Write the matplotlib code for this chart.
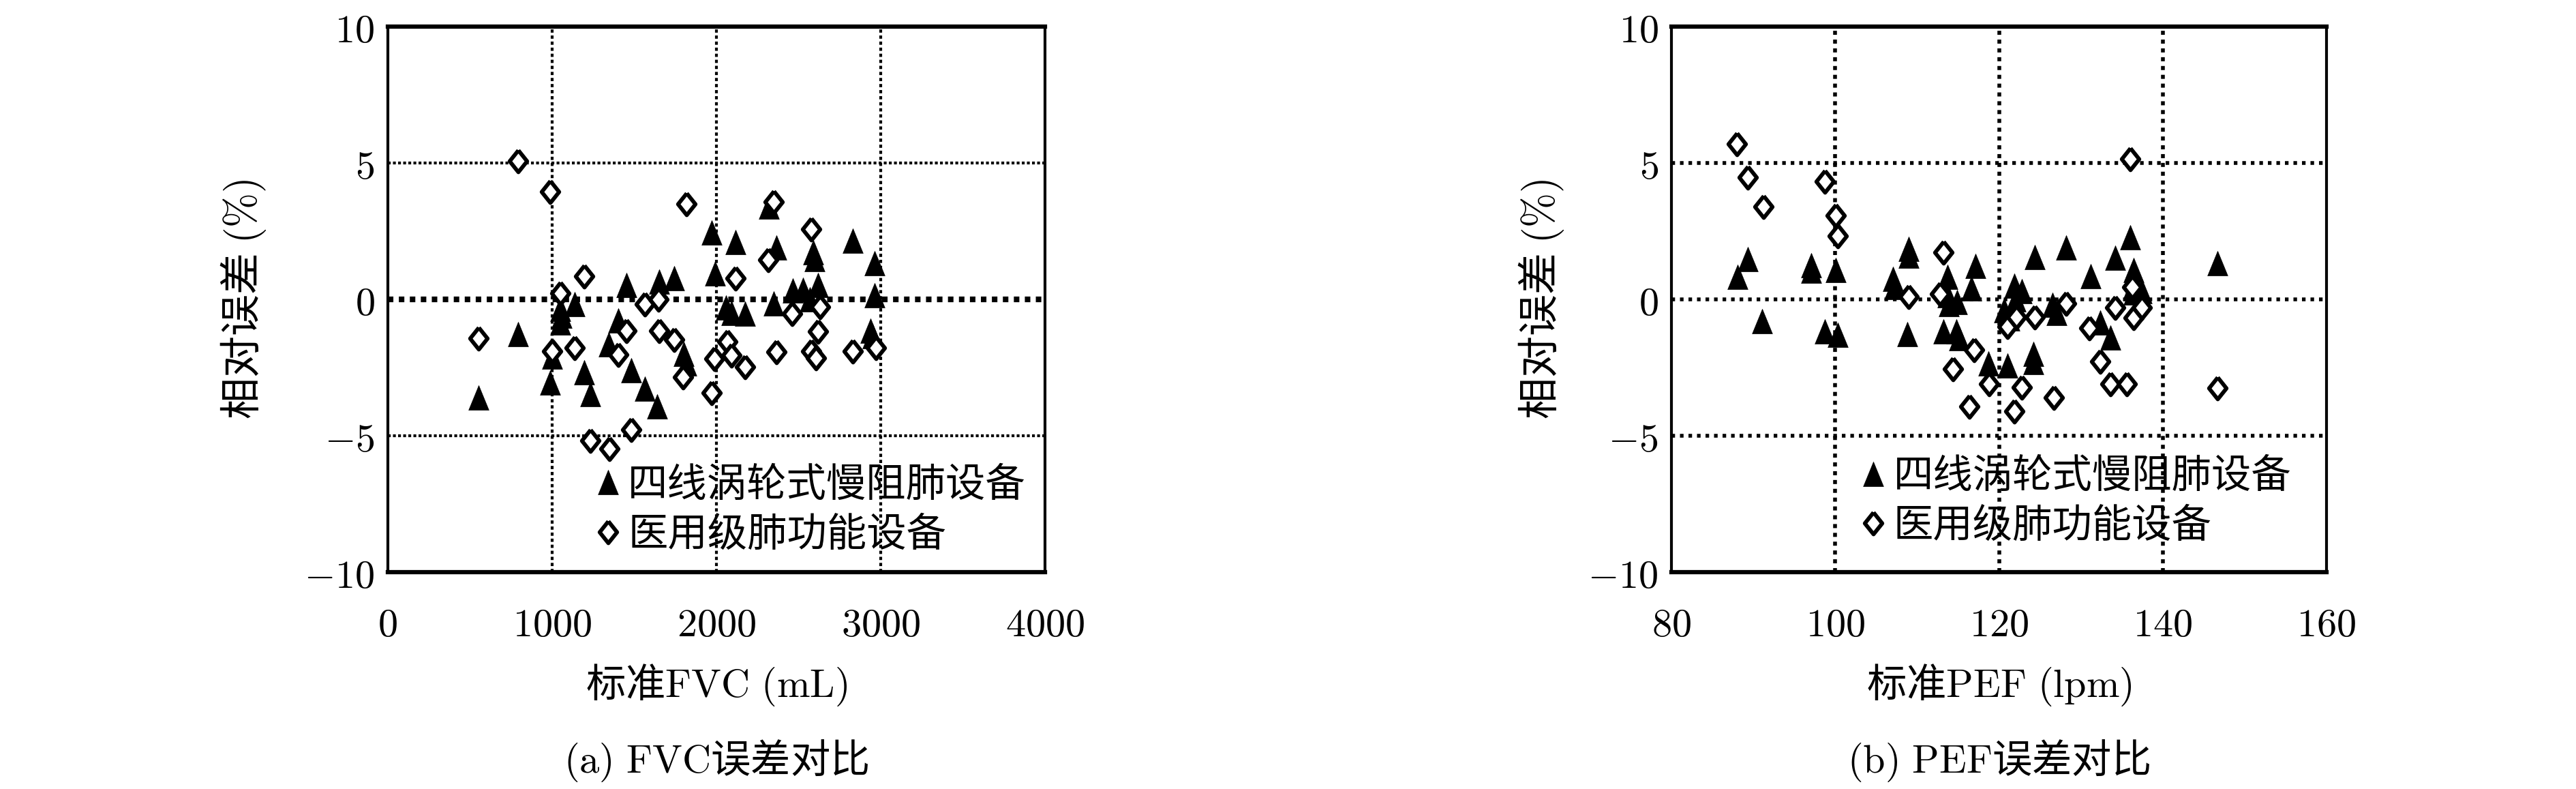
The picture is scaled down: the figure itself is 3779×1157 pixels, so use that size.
import matplotlib
matplotlib.use("Agg")
import matplotlib.pyplot as plt

plt.rcParams['font.family'] = ['Noto Sans CJK SC', 'DejaVu Serif']
plt.rcParams['mathtext.fontset'] = 'cm'
plt.rcParams['lines.scale_dashes'] = False

# ---------- data ----------
fvc_x_tri = [553, 793, 1000, 989, 1050, 1058, 1050, 1138, 1194, 1231, 1346, 1405,
             1454, 1481, 1564, 1640, 1654, 1744, 1800, 1820, 1972, 1993, 2060,
             2090, 2118, 2173, 2320, 2350, 2367, 2467, 2527, 2571, 2592, 2599,
             2620, 2831, 2938, 2950, 2965, 2965]
fvc_y_tri = [-3.6, -1.27, -2.1, -3.06, -0.35, -0.6, -0.85, -0.18, -2.68, -3.48,
             -1.64, -0.77, 0.52, -2.6, -3.27, -3.93, 0.65, 0.78, -2.0, -2.35,
             2.44, 0.94, -0.3, -0.5, 2.1, -0.52, 3.4, -0.14, 1.9, 0.32, 0.36,
             0.0, 1.73, 1.48, 0.52, 2.15, -1.14, -1.35, 1.32, 0.15]
fvc_x_dia = [553, 793, 989, 1000, 1051, 1138, 1194, 1231, 1349, 1405, 1454, 1481,
             1564, 1647, 1654, 1744, 1799, 1820, 1972, 1990, 2069, 2090, 2118,
             2176, 2315, 2350, 2367, 2461, 2578, 2578, 2606, 2620, 2633, 2831, 2970]
fvc_y_dia = [-1.42, 5.08, 3.94, -1.9, 0.23, -1.78, 0.86, -5.18, -5.48, -2.02,
             -1.14, -4.77, -0.18, 0.0, -1.14, -1.48, -2.85, 3.5, -3.43, -2.18,
             -1.56, -2.06, 0.78, -2.48, 1.44, 3.57, -1.92, -0.52, 2.57, -1.9,
             -2.15, -1.17, -0.27, -1.89, -1.77]

pef_x_tri = [88.05, 89.3, 91.1, 97.1, 97.1, 98.75, 100.06, 100.3, 107.06, 107.2,
             108.8, 108.94, 108.94, 113.7, 113.7, 113.9, 114.9, 113.25, 114.8,
             115.1, 116.6, 117.1, 118.7, 120.6, 121.0, 121.3, 121.9, 122.0, 122.8,
             124.2, 124.2, 124.4, 126.5, 127.0, 128.2, 131.2, 132.4, 133.6, 134.2,
             136.0, 136.4, 136.4, 136.4, 137.4, 146.7]
pef_y_tri = [0.82, 1.48, -0.8, 1.25, 1.05, -1.18, 1.07, -1.3, 0.75, 0.45, -1.27,
             1.85, 1.6, 0.82, 0.15, -0.18, -0.1, -1.18, -1.18, -1.43, 0.4, 1.23,
             -2.35, -0.4, -2.43, -0.7, 0.5, 0.0, 0.3, -2.0, -2.3, 1.56, -0.2,
             -0.5, 1.9, 0.86, -0.85, -1.4, 1.52, 2.27, 1.07, 0.5, 0.25, 0.3, 1.32]
pef_x_dia = [88.0, 89.3, 91.2, 98.75, 100.06, 100.3, 108.94, 112.8, 113.2, 114.4,
             116.4, 117.0, 118.8, 121.0, 121.9, 122.1, 122.8, 124.4, 126.7, 128.2,
             131.0, 132.4, 133.6, 134.2, 135.6, 136.0, 136.3, 136.4, 137.4, 146.7]
pef_y_dia = [5.7, 4.48, 3.4, 4.33, 3.07, 2.32, 0.1, 0.19, 1.73, -2.56, -3.93,
             -1.85, -3.1, -1.0, -4.1, -0.64, -3.22, -0.64, -3.6, -0.14, -1.06,
             -2.27, -3.1, -0.31, -3.1, 5.14, 0.45, -0.68, -0.31, -3.26]

fvc_xticks = [0, 1000, 2000, 3000, 4000]
pef_xticks = [80, 100, 120, 140, 160]
yticks = [-10, -5, 0, 5, 10]

label_tri = '四线涡轮式慢阻肺设备'
label_dia = '医用级肺功能设备'
ylabel = r'相对误差 $\mathrm{(\%)}$'

# tall triangle / diamond like in the original
tri_marker = [(-0.41, -0.5), (0.41, -0.5), (0, 0.5), (-0.41, -0.5)]
dia_marker = [(0, 0.5), (0.4, 0), (0, -0.5), (-0.4, 0), (0, 0.5)]

FS = 42

fig = plt.figure(figsize=(37.8, 11.57), dpi=100)


def make_panel(rect, xt, yt, xd, yd, xticks, xlabel, caption, ylab_x,
               leg_anchor, bold_zero):
    ax = fig.add_axes(rect)
    ax.set_xlim(xticks[0], xticks[-1])
    ax.set_ylim(yticks[0], yticks[-1])

    # grid: dashed verticals, dotted horizontals
    for v in xticks[1:-1]:
        if bold_zero:
            ax.axvline(v, color='black', lw=3.0, ls=(0, (3.4, 3.0)),
                       dash_capstyle='butt', zorder=1)
        else:
            ax.axvline(v, color='black', lw=4.0, ls=(0, (4.3, 5.0)),
                       dash_capstyle='butt', zorder=1)
    for v in yticks[1:-1]:
        if v == 0 and bold_zero:
            ax.axhline(v, color='black', lw=6.0, ls=(0, (5.8, 5.8)),
                       dash_capstyle='butt', zorder=1)
        elif bold_zero:
            ax.axhline(v, color='black', lw=3.0, ls=(0, (3.0, 2.4)),
                       dash_capstyle='butt', zorder=1)
        else:
            ax.axhline(v, color='black', lw=4.0, ls=(0, (3.8, 5.2)),
                       dash_capstyle='butt', zorder=1)

    ax.plot(xt, yt, ls='none', marker=tri_marker, ms=26, color='black',
            mec='black', mew=0.5, label=label_tri, zorder=3)
    ax.plot(xd, yd, ls='none', marker=dia_marker, ms=23, mfc='white',
            mec='black', mew=4.2, label=label_dia, zorder=4)

    ax.set_xticks(xticks)
    ax.set_xticklabels([f'${t}$' for t in xticks], fontsize=FS)
    ax.set_yticks(yticks)
    ax.set_yticklabels([f'${t}$' for t in yticks], fontsize=FS)
    ax.tick_params(axis='x', length=0, pad=34)
    ax.tick_params(axis='y', length=0, pad=14)

    for side in ['left', 'right']:
        ax.spines[side].set_linewidth(3.0)
    for side in ['top', 'bottom']:
        ax.spines[side].set_linewidth(4.5)

    ax.set_ylabel(ylabel, fontsize=FS + 2, va='center')
    ax.yaxis.set_label_coords(ylab_x, 0.5)

    ax.text(0.5, -0.2075, xlabel, transform=ax.transAxes, ha='center',
            va='center', fontsize=FS)
    ax.text(0.5, -0.346, caption, transform=ax.transAxes, ha='center',
            va='center', fontsize=FS)

    ax.legend(loc='center left', bbox_to_anchor=leg_anchor, frameon=False,
              fontsize=FS, handlelength=0.6, handletextpad=0.2,
              labelspacing=0.2, borderpad=0, borderaxespad=0)
    return ax


make_panel([0.1505, 0.2749, 0.2550, 0.6914], fvc_x_tri, fvc_y_tri,
           fvc_x_dia, fvc_y_dia, fvc_xticks,
           r'标准$\mathrm{FVC\ (mL)}$', r'$\mathrm{(a)\ FVC}$误差对比',
           -0.22, (0.317, 0.114), True)
make_panel([0.6487, 0.2749, 0.2542, 0.6914], pef_x_tri, pef_y_tri,
           pef_x_dia, pef_y_dia, pef_xticks,
           r'标准$\mathrm{PEF\ (lpm)}$', r'$\mathrm{(b)\ PEF}$误差对比',
           -0.199, (0.290, 0.13), False)

fig.savefig('out.png', dpi=100, facecolor='white')
